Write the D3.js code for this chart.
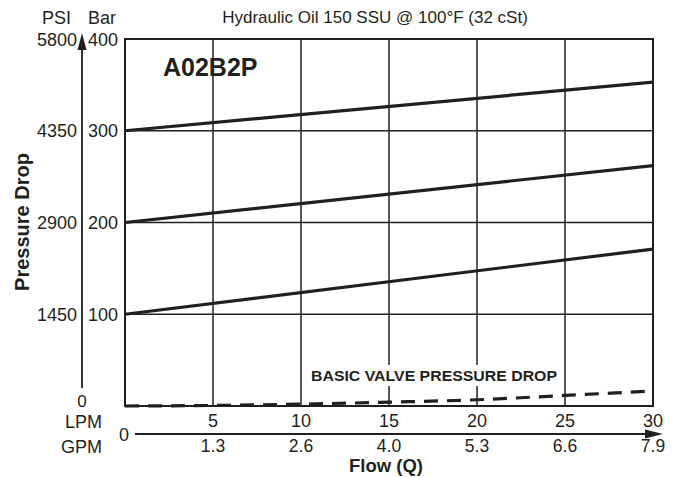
<!DOCTYPE html>
<html><head><meta charset="utf-8">
<script src="https://cdn.jsdelivr.net/npm/d3@7"></script>
<style>body{margin:0;background:#fff}svg{display:block;font-family:"Liberation Sans",Arial,Helvetica,sans-serif}</style>
</head><body><svg id="c" width="678" height="477"></svg>
<script>
const flowLPM = [0, 30];
const seriesNames = ["300 bar", "200 bar", "100 bar"];
const seriesValues = [[300, 353], [200, 262], [100, 171]];
const basicFlow = [0, 5, 10, 15, 20, 25, 30];
const basicDrop = [0, 0.6, 2, 4.2, 6.8, 11.5, 16.3];
const lpmTicks = [5, 10, 15, 20, 25, 30];
const gpmLabels = ["1.3", "2.6", "4.0", "5.3", "6.6", "7.9"];
const barTicks = [100, 200, 300, 400];
const psiLabels = ["1450", "2900", "4350", "5800"];
const title = "Hydraulic Oil 150 SSU @ 100°F (32 cSt)";
const model = "A02B2P";

const ink = "#231f20";
const fs = 18;
const svg = d3.select("#c");
const L = 125, R = 653, T = 39, B = 406;
const x = d3.scaleLinear().domain([0, 30]).range([L, R]);
const y = d3.scaleLinear().domain([0, 400]).range([B, T]);

// grid
const g = svg.append("g");
g.selectAll(".vg").data(lpmTicks.slice(0, -1)).join("line")
  .attr("x1", d => x(d)).attr("x2", d => x(d)).attr("y1", T).attr("y2", B)
  .attr("stroke", ink).attr("stroke-width", 1.5);
g.selectAll(".hg").data(barTicks.slice(0, -1)).join("line")
  .attr("x1", L).attr("x2", R).attr("y1", d => y(d)).attr("y2", d => y(d))
  .attr("stroke", ink).attr("stroke-width", 1.5);
// frame
svg.append("rect").attr("x", L).attr("y", T).attr("width", R - L).attr("height", B - T)
  .attr("fill", "none").attr("stroke", ink).attr("stroke-width", 2);

// label with white background
const lbl = svg.append("text").attr("x", x(10) + 10).attr("y", 381)
  .attr("font-size", 15.5).attr("font-weight", "bold").attr("fill", ink)
  .attr("textLength", 246).attr("lengthAdjust", "spacingAndGlyphs")
  .text("BASIC VALVE PRESSURE DROP");
const bb = lbl.node().getBBox();
svg.insert("rect", "text").attr("x", bb.x - 2).attr("y", bb.y - 2).attr("width", bb.width + 4).attr("height", bb.height + 4).attr("fill", "#fff");

// lines
const line = d3.line().x(d => x(d[0])).y(d => y(d[1]));
seriesValues.forEach(vals => {
  svg.append("path").datum(flowLPM.map((f, i) => [f, vals[i]]))
    .attr("d", line).attr("fill", "none").attr("stroke", ink).attr("stroke-width", 3.2);
});
svg.append("path").datum(basicFlow.map((f, i) => [f, basicDrop[i]]))
  .attr("d", d3.line().curve(d3.curveMonotoneX).x(d => x(d[0])).y(d => y(d[1])))
  .attr("fill", "none").attr("stroke", ink).attr("stroke-width", 3.2)
  .attr("stroke-dasharray", "14,9");

// model label
svg.append("text").attr("x", 163).attr("y", 76).attr("font-size", 25).attr("font-weight", "bold")
  .attr("fill", ink).text(model);

// title
svg.append("text").attr("x", 375).attr("y", 23).attr("text-anchor", "middle")
  .attr("font-size", 17).attr("fill", ink).text(title);

// left axis arrow
svg.append("line").attr("x1", 82).attr("x2", 82).attr("y1", 388).attr("y2", 46)
  .attr("stroke", ink).attr("stroke-width", 1.8);
svg.append("path").attr("d", "M82,33 L86.5,50 L77.5,50 Z").attr("fill", ink);
svg.append("text").attr("x", 82).attr("y", 407).attr("text-anchor", "middle")
  .attr("font-size", 17).attr("fill", ink).text("0");

svg.append("text").attr("x", 71).attr("y", 24).attr("text-anchor", "end").attr("font-size", fs).attr("fill", ink).text("PSI");
svg.append("text").attr("x", 88).attr("y", 24).attr("font-size", fs).attr("fill", ink).text("Bar");

svg.selectAll(".psi").data(barTicks).join("text")
  .attr("x", 77).attr("y", d => y(d) + 6.5).attr("text-anchor", "end")
  .attr("font-size", fs).attr("fill", ink).text((d, i) => psiLabels[i]);
svg.selectAll(".bar").data(barTicks).join("text")
  .attr("x", 88).attr("y", d => y(d) + 6.5)
  .attr("font-size", fs).attr("fill", ink).text(d => d);

svg.append("text").attr("transform", "translate(29,222) rotate(-90)").attr("text-anchor", "middle")
  .attr("font-size", 20).attr("font-weight", "bold").attr("fill", ink).text("Pressure Drop");

// bottom axis
svg.append("text").attr("x", 102).attr("y", 428).attr("text-anchor", "end").attr("font-size", fs).attr("fill", ink).text("LPM");
svg.append("text").attr("x", 102).attr("y", 453).attr("text-anchor", "end").attr("font-size", fs).attr("fill", ink).text("GPM");
svg.selectAll(".lpm").data(lpmTicks).join("text")
  .attr("x", d => x(d)).attr("y", 427).attr("text-anchor", "middle")
  .attr("font-size", fs).attr("fill", ink).text(d => d);
svg.selectAll(".gpm").data(lpmTicks).join("text")
  .attr("x", d => x(d)).attr("y", 452).attr("text-anchor", "middle")
  .attr("font-size", 17.5).attr("fill", ink).text((d, i) => gpmLabels[i]);
svg.append("text").attr("x", 124).attr("y", 441).attr("text-anchor", "middle").attr("font-size", fs).attr("fill", ink).text("0");
svg.append("line").attr("x1", 135).attr("x2", 648).attr("y1", 434).attr("y2", 434)
  .attr("stroke", ink).attr("stroke-width", 1.8);
svg.append("path").attr("d", "M663,434 L645,429.5 L645,438.5 Z").attr("fill", ink);
svg.append("text").attr("x", 386).attr("y", 471.5).attr("text-anchor", "middle")
  .attr("font-size", 18.5).attr("font-weight", "bold").attr("fill", ink).text("Flow (Q)");
</script></body></html>
